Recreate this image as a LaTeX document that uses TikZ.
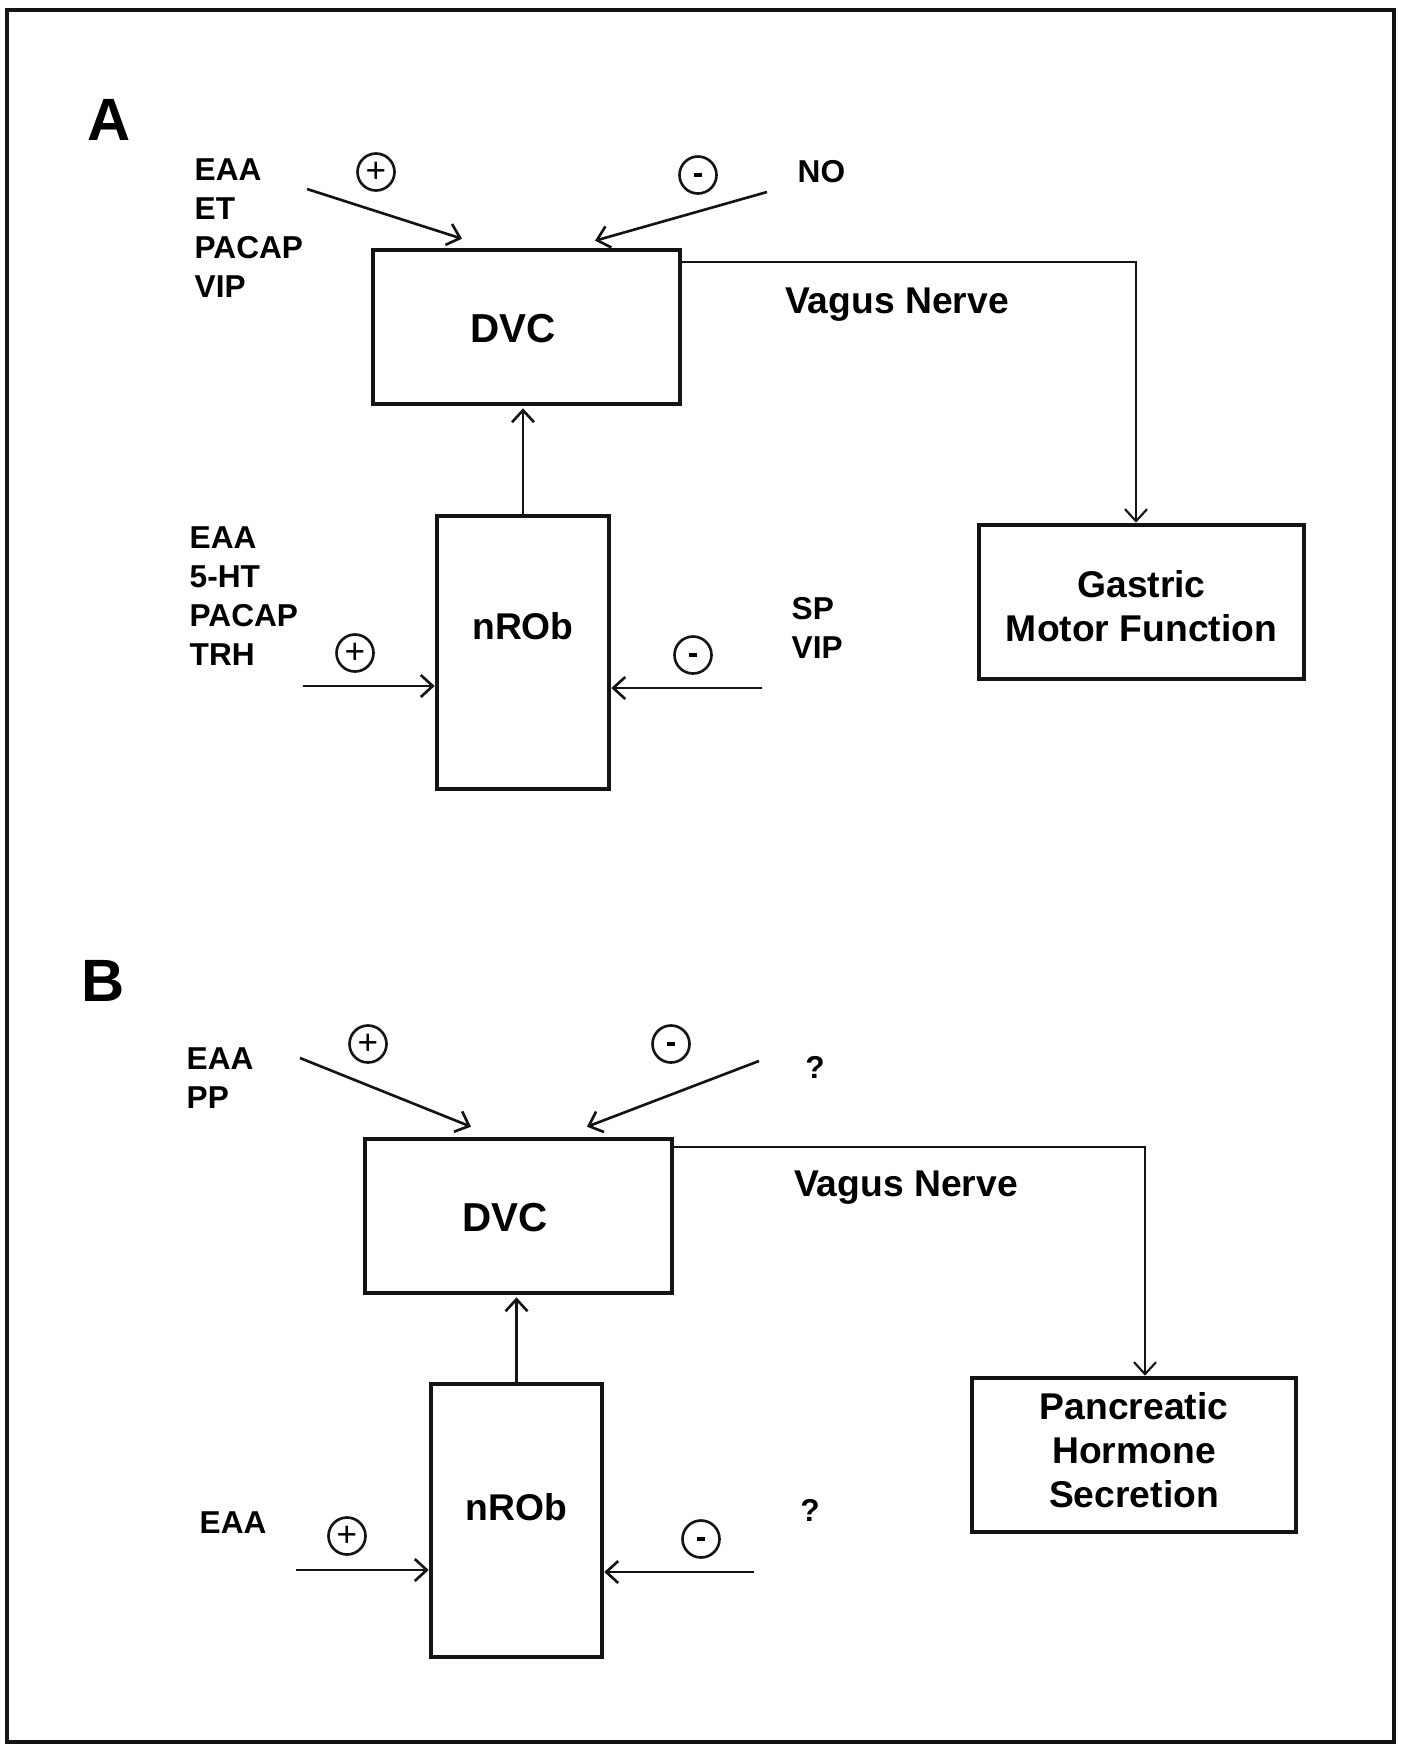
\documentclass[tikz,border=0pt]{standalone}
\usepackage{fontspec}
\setmainfont{Liberation Sans}
\usetikzlibrary{arrows.meta,positioning}
\definecolor{ink}{HTML}{141414}
\tikzset{
  panelbox/.style={draw=ink,line width=1.3pt,inner sep=0pt,align=center,
                   font=\bfseries\fontsize{10.6}{12.6}\selectfont},
  bigtext/.style={inner sep=0pt,font=\bfseries\fontsize{11.5}{13}\selectfont},
  midtext/.style={inner sep=0pt,font=\bfseries\fontsize{10.6}{12.6}\selectfont},
  agent/.style={inner sep=0pt,align=left,font=\bfseries\fontsize{9}{11.1}\selectfont},
  panelletter/.style={inner sep=0pt,font=\bfseries\fontsize{17}{17}\selectfont},
  plussign/.style={draw=ink,circle,line width=0.75pt,minimum size=3.7mm,inner sep=0pt,
                   font=\fontsize{10}{10}\selectfont},
  minussign/.style={draw=ink,circle,line width=0.75pt,minimum size=3.7mm,inner sep=0pt},
  inarr/.style={-{Straight Barb[length=1.2mm,width=2.2mm]},line width=0.75pt,draw=ink},
  nervearr/.style={-{Straight Barb[length=1.2mm,width=2.2mm]},line width=0.6pt,draw=ink}
}
\newcommand{\minusbar}{\rule{0.85mm}{0.4mm}}
\begin{document}
\begin{tikzpicture}[x=0.1mm,y=-0.1mm]
    \useasboundingbox (0,0) rectangle (1414,1744);
    \draw[ink,line width=1pt] (7,10) rectangle (1394,1742);

    % panel A
    \node[panelletter] (letterA) at (109,120) {A};
    \node[panelbox,minimum width=30.7mm,minimum height=15.4mm,
      label={[bigtext,xshift=-1.35mm,yshift=-0.2mm]center:DVC}] (dvcA) at (526.5,327) {};
    \node[panelbox,minimum width=17.2mm,minimum height=27.3mm,
      label={[midtext,yshift=2.65mm]center:nROb}] (nrobA) at (523,652.5) {};
    \node[panelbox,minimum width=32.5mm,minimum height=15.4mm,
      label={[midtext,align=center,yshift=-0.4mm]center:Gastric\\Motor Function}] (gastric) at (1141.5,602) {};
    \node[agent,anchor=west] (dvcexA) at (194,228) {EAA\\ET\\PACAP\\VIP};
    \node[agent,anchor=west] (dvcinA) at (797,172) {NO};
    \node[agent,anchor=west] (robexA) at (189,596) {EAA\\5-HT\\PACAP\\TRH};
    \node[agent,anchor=west] (robinA) at (791,628) {SP\\VIP};
    \node[midtext] (vagusA) at (897,305) {Vagus Nerve};
    \node[plussign] (plusA1) at (376,172) {+};
    \node[minussign] (minusA1) at (698,175) {\minusbar};
    \node[plussign] (plusA2) at (355,653) {+};
    \node[minussign] (minusA2) at (693,655) {\minusbar};
    \coordinate (srcA1) at (307,189);
    \coordinate (srcA2) at (767,192);
    \coordinate (srcA3) at (303,686);
    \coordinate (srcA4) at (762,688);
    \draw[inarr] (srcA1) -- ([xshift=-6.45mm,yshift=0.9mm]dvcA.north);
    \draw[inarr] (srcA2) -- ([xshift=6.85mm,yshift=0.7mm]dvcA.north);
    \draw[inarr] (srcA3) -- (srcA3 -| nrobA.west);
    \draw[inarr] (srcA4) -- (srcA4 -| nrobA.east);
    \draw[inarr,shorten >=0.2mm] (nrobA.north) -- (nrobA.north |- dvcA.south);
    \draw[nervearr] ([yshift=-1.4mm]dvcA.north east) -| ([xshift=-0.55mm]gastric.north);

    % panel B
    \node[panelletter] (letterB) at (103,981) {B};
    \node[panelbox,minimum width=30.7mm,minimum height=15.4mm,
      label={[bigtext,xshift=-1.35mm,yshift=-0.2mm]center:DVC}] (dvcB) at (518.5,1216) {};
    \node[panelbox,minimum width=17.1mm,minimum height=27.3mm,
      label={[midtext,yshift=1.35mm]center:nROb}] (nrobB) at (516.5,1520.5) {};
    \node[panelbox,minimum width=32.4mm,minimum height=15.4mm,
      label={[midtext,align=center,yshift=0.5mm]center:Pancreatic\\Hormone\\Secretion}] (pancreas) at (1134,1455) {};
    \node[agent,anchor=west] (dvcexB) at (186,1078) {EAA\\PP};
    \node[agent] (dvcinB) at (815,1067) {?};
    \node[agent,anchor=west] (robexB) at (199,1523) {EAA};
    \node[agent] (robinB) at (810,1510) {?};
    \node[midtext] (vagusB) at (906,1188) {Vagus Nerve};
    \node[plussign] (plusB1) at (368,1044) {+};
    \node[minussign] (minusB1) at (671,1044) {\minusbar};
    \node[plussign] (plusB2) at (347,1536) {+};
    \node[minussign] (minusB2) at (701,1539) {\minusbar};
    \coordinate (srcB1) at (300,1058);
    \coordinate (srcB2) at (759,1061);
    \coordinate (srcB3) at (296,1570);
    \coordinate (srcB4) at (754,1572);
    \draw[inarr] (srcB1) -- ([xshift=-4.75mm,yshift=1.0mm]dvcB.north);
    \draw[inarr] (srcB2) -- ([xshift=6.85mm,yshift=1.0mm]dvcB.north);
    \draw[inarr] (srcB3) -- (srcB3 -| nrobB.west);
    \draw[inarr] (srcB4) -- (srcB4 -| nrobB.east);
    \draw[inarr,shorten >=0.2mm] (nrobB.north) -- (nrobB.north |- dvcB.south);
    \draw[nervearr] ([yshift=-1.0mm]dvcB.north east) -| ([xshift=1.1mm]pancreas.north);
  \end{tikzpicture}
\end{document}
